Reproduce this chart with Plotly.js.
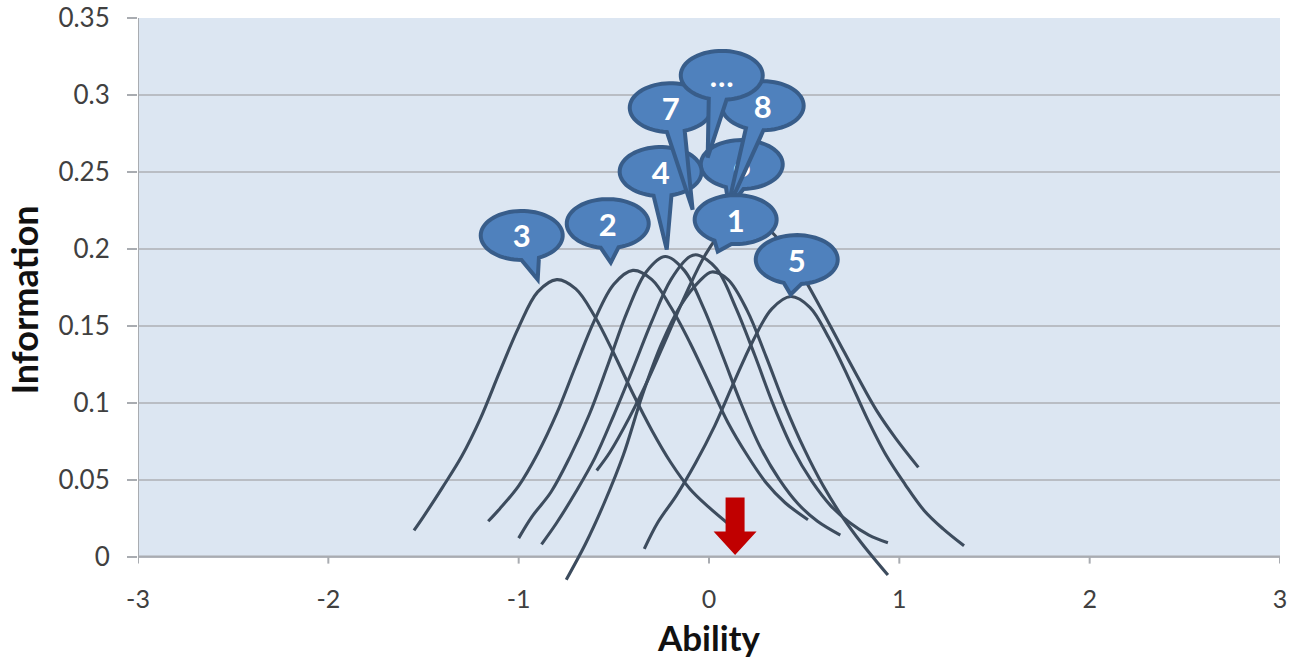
<!DOCTYPE html>
<html><head><meta charset="utf-8">
<script src="https://cdn.plot.ly/plotly-3.0.1.min.js"></script>
<style>html,body{margin:0;padding:0;background:#fff}#chart{width:1293px;height:665px}</style>
</head><body><div id="chart"></div>
<script>
// ---- data ----
const abilityTicks = [-3, -2, -1, 0, 1, 2, 3];
const infoTicks = [0, 0.05, 0.1, 0.15, 0.2, 0.25, 0.3, 0.35];
const infoTickLabels = ['0', '0.05', '0.1', '0.15', '0.2', '0.25', '0.3', '0.35'];

const item3X = [-1.55, -1.5, -1.4, -1.3, -1.2, -1.1, -1.0, -0.9, -0.8, -0.7, -0.6, -0.5, -0.4, -0.3, -0.2, -0.1, 0.0, 0.095];
const item3Y = [0.017, 0.026, 0.045, 0.065, 0.090, 0.120, 0.149, 0.172, 0.180, 0.174, 0.156, 0.132, 0.106, 0.082, 0.061, 0.044, 0.032, 0.022];

const item2X = [-1.16, -1.1, -1.0, -0.9, -0.8, -0.7, -0.6, -0.5, -0.4, -0.3, -0.2, -0.1, 0.0, 0.1, 0.2, 0.3, 0.4, 0.52];
const item2Y = [0.023, 0.031, 0.046, 0.067, 0.093, 0.124, 0.154, 0.177, 0.186, 0.180, 0.162, 0.139, 0.113, 0.087, 0.066, 0.048, 0.035, 0.024];

const item4X = [-1.0, -0.93, -0.83, -0.73, -0.63, -0.53, -0.43, -0.33, -0.23, -0.13, -0.03, 0.07, 0.17, 0.27, 0.37, 0.47, 0.57, 0.69];
const item4Y = [0.012, 0.026, 0.042, 0.065, 0.092, 0.125, 0.159, 0.185, 0.195, 0.186, 0.162, 0.131, 0.099, 0.071, 0.050, 0.034, 0.023, 0.014];

const item7X = [-0.88, -0.8, -0.7, -0.6, -0.5, -0.4, -0.3, -0.2, -0.1, -0.06, 0.04, 0.14, 0.24, 0.34, 0.44, 0.54, 0.64, 0.74, 0.84, 0.94];
const item7Y = [0.008, 0.022, 0.042, 0.064, 0.092, 0.122, 0.153, 0.180, 0.195, 0.196, 0.187, 0.162, 0.131, 0.098, 0.070, 0.049, 0.033, 0.022, 0.014, 0.009];

const item1X = [-0.75, -0.65, -0.55, -0.45, -0.35, -0.25, -0.15, -0.05, 0.015, 0.1, 0.2, 0.3, 0.4, 0.5, 0.6, 0.7, 0.8, 0.94];
const item1Y = [-0.015, 0.008, 0.035, 0.066, 0.105, 0.138, 0.163, 0.179, 0.185, 0.180, 0.160, 0.130, 0.098, 0.070, 0.046, 0.026, 0.009, -0.012];

const item8X = [-0.59, -0.52, -0.42, -0.32, -0.22, -0.12, -0.02, 0.08, 0.18, 0.28, 0.38, 0.48, 0.58, 0.68, 0.78, 0.88, 0.98, 1.10];
const item8Y = [0.056, 0.068, 0.090, 0.115, 0.143, 0.171, 0.196, 0.213, 0.220, 0.216, 0.204, 0.185, 0.163, 0.140, 0.117, 0.095, 0.077, 0.058];

const item5X = [-0.34, -0.27, -0.17, -0.07, 0.03, 0.13, 0.23, 0.33, 0.43, 0.53, 0.63, 0.73, 0.83, 0.93, 1.03, 1.13, 1.23, 1.34];
const item5Y = [0.005, 0.022, 0.040, 0.061, 0.085, 0.113, 0.140, 0.161, 0.169, 0.162, 0.142, 0.117, 0.090, 0.066, 0.047, 0.030, 0.018, 0.007];

const itemNames = ['Item 3', 'Item 2', 'Item 4', 'Item 7', 'Item 1', 'Item 8', 'Item 5'];
const itemXs = [item3X, item2X, item4X, item7X, item1X, item8X, item5X];
const itemYs = [item3Y, item2Y, item4Y, item7Y, item1Y, item8Y, item5Y];

// current ability estimate (red arrow)
const abilityEstimate = 0.137;

// speech-bubble callouts: label, bubble centre and tail tip (data units), drawn in this order
const calloutLabels = ['3', '2', '5', '6', '4', '7', '8', '…', '1'];
const calloutCx = [-0.984, -0.532, 0.461, 0.172, -0.254, -0.201, 0.282, 0.067, 0.140];
const calloutCy = [0.2087, 0.2164, 0.1930, 0.2548, 0.2502, 0.2917, 0.2930, 0.3127, 0.2190];
const calloutTipX = [-0.900, -0.516, 0.429, 0.105, -0.222, -0.086, 0.095, -0.007, 0.046];
const calloutTipY = [0.1801, 0.1911, 0.1703, 0.2270, 0.1995, 0.2255, 0.2250, 0.2593, 0.1982];

// ---- layout geometry ----
const W = 1293, H = 665;
const M = {l: 138, r: 13, t: 18, b: 83};
const xRange = [-3, 3], yRange = [-0.0165, 0.35];
const kx = (W - M.l - M.r) / (xRange[1] - xRange[0]);   // px per x unit
const ky = (H - M.t - M.b) / (yRange[1] - yRange[0]);   // px per y unit

const LINE = '#3d4c5e';
const traces = itemXs.map((xs, i) => ({
  type: 'scatter', mode: 'lines', name: itemNames[i],
  x: xs, y: itemYs[i],
  line: {color: LINE, width: 3.1, shape: 'spline', smoothing: 1},
  hoverinfo: 'name', showlegend: false
}));

const shapes = [];
// plot background only over 0..0.35
shapes.push({type: 'rect', xref: 'x', yref: 'y', x0: -3, x1: 3, y0: 0, y1: 0.35,
  fillcolor: '#dce6f2', line: {width: 0}, layer: 'below'});
// axis lines
shapes.push({type: 'line', xref: 'x', yref: 'y', x0: -3, x1: 3, y0: 0, y1: 0,
  line: {color: '#a9acb1', width: 2}, layer: 'between'});
shapes.push({type: 'line', xref: 'x', yref: 'y', x0: -3, x1: -3, y0: 0, y1: 0.35,
  line: {color: '#a9acb1', width: 2}, layer: 'between'});
abilityTicks.forEach(t => shapes.push({type: 'line', xref: 'x', yref: 'y', x0: t, x1: t,
  y0: 0, y1: -7 / ky, line: {color: '#a9acb1', width: 2}, layer: 'between'}));

// callouts
const RX = 41, RY = 24.5, HALF = 0.22;
function ptData(cx, cy, px, py) { return (cx + px / kx).toFixed(5) + ',' + (cy - py / ky).toFixed(5); }
calloutLabels.forEach((lab, i) => {
  const cx = calloutCx[i], cy = calloutCy[i];
  const dx = (calloutTipX[i] - cx) * kx, dy = -(calloutTipY[i] - cy) * ky;
  const th = Math.atan2(dy, dx);
  const t0 = Math.atan2(Math.sin(th) / RY, Math.cos(th) / RX);
  const t1 = t0 - HALF, t2 = t0 + HALF;
  let d = 'M ' + ptData(cx, cy, RX * Math.cos(t2), RY * Math.sin(t2));
  const N = 64;
  for (let k = 1; k <= N; k++) {
    const t = t2 + (2 * Math.PI - 2 * HALF) * k / N;
    d += ' L ' + ptData(cx, cy, RX * Math.cos(t), RY * Math.sin(t));
  }
  d += ' L ' + ptData(cx, cy, dx, dy) + ' Z';
  shapes.push({type: 'path', xref: 'x', yref: 'y', path: d,
    fillcolor: '#4f81bd', line: {color: '#385d8a', width: 4}, layer: 'above'});
  shapes.push({type: 'rect', xref: 'x', yref: 'y',
    x0: cx - RX / kx, x1: cx + RX / kx, y0: cy - RY / ky, y1: cy + RY / ky,
    fillcolor: 'rgba(0,0,0,0)', line: {width: 0}, layer: 'above',
    label: {text: lab, textposition: 'middle center',
      font: {family: 'Lato', size: 31, color: '#ffffff', weight: 'bold'}}});
});

// red arrow marking the ability estimate
(function () {
  const x = abilityEstimate, base = 0;
  const p = (px, py) => (x + px / kx).toFixed(5) + ',' + (base + py / ky).toFixed(5);
  const d = 'M ' + p(-9.5, 59) + ' L ' + p(9.5, 59) + ' L ' + p(9.5, 25) + ' L ' + p(21.5, 25) +
            ' L ' + p(0, 1.5) + ' L ' + p(-21.5, 25) + ' L ' + p(-9.5, 25) + ' Z';
  shapes.push({type: 'path', xref: 'x', yref: 'y', path: d, fillcolor: '#c00000',
    line: {width: 0}, layer: 'above'});
})();

const layout = {
  width: W, height: H, margin: M,
  paper_bgcolor: '#ffffff', plot_bgcolor: 'rgba(0,0,0,0)',
  font: {family: 'Lato', color: '#404040'},
  showlegend: false,
  xaxis: {
    range: xRange, tickvals: abilityTicks, ticktext: abilityTicks.map(String),
    showgrid: false, zeroline: false, showline: false, ticks: '',
    tickfont: {family: 'Lato', size: 25, color: '#404040'},
    title: {text: 'Ability', standoff: 14, font: {family: 'Lato', size: 35, color: '#111111', weight: 'bold'}},
    fixedrange: true
  },
  yaxis: {
    range: yRange, tickvals: infoTicks, ticktext: infoTickLabels,
    showgrid: true, gridcolor: '#b9bdc4', gridwidth: 2, zeroline: false, showline: false,
    ticks: 'outside', ticklen: 10, tickwidth: 2, tickcolor: '#a9acb1',
    ticklabelstandoff: 12,
    tickfont: {family: 'Lato', size: 26, color: '#404040'},
    title: {text: 'Information', standoff: 8, font: {family: 'Lato', size: 36, color: '#111111', weight: 'bold'}},
    fixedrange: true
  },
  shapes: shapes
};

Plotly.newPlot('chart', traces, layout, {displayModeBar: false, staticPlot: true});
</script>
</body></html>
